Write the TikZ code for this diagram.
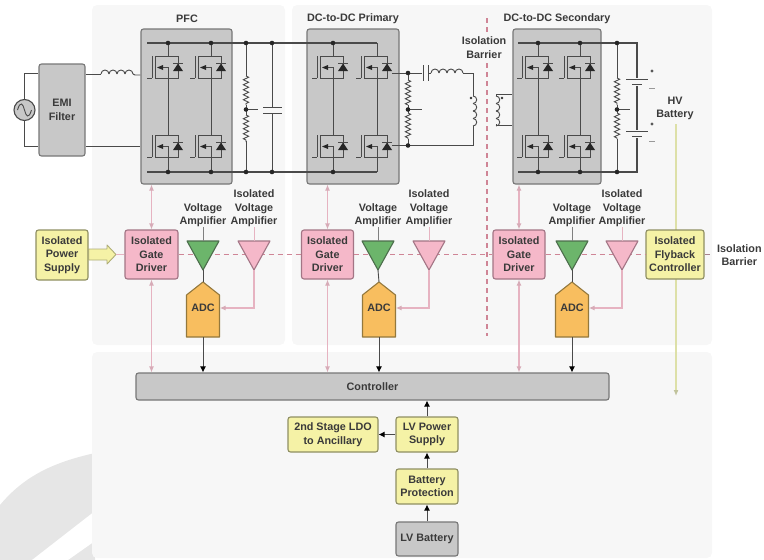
\documentclass[tikz,border=0pt]{standalone}
\usepackage{fontspec}
\setmainfont{Liberation Sans}
\usetikzlibrary{arrows.meta,decorations.pathmorphing}
\definecolor{panelc}{HTML}{F7F7F7}
\definecolor{blockc}{HTML}{C8C8C8}
\definecolor{blockb}{HTML}{777777}
\definecolor{wirec}{HTML}{4A4A4A}
\definecolor{yellowf}{HTML}{F5F2A6}
\definecolor{yellowb}{HTML}{8F8F62}
\definecolor{pinkf}{HTML}{F5B8C9}
\definecolor{pinkb}{HTML}{A37585}
\definecolor{pinkl}{HTML}{E6B3C1}
\definecolor{dashc}{HTML}{CF8596}
\definecolor{greenf}{HTML}{6CB56B}
\definecolor{greenb}{HTML}{4C6E4C}
\definecolor{orangef}{HTML}{F8BE5F}
\definecolor{orangeb}{HTML}{94783C}
\definecolor{txtc}{HTML}{3A3A3A}
\definecolor{hvline}{HTML}{DDE0A8}
\definecolor{wmark}{HTML}{E6E6E6}
\tikzset{
  lab/.style={font=\fontsize{10.8}{13.5}\selectfont\bfseries,text=txtc,align=center,inner sep=0pt},
  ybox/.style={lab,rounded corners=2.5pt,draw=yellowb,fill=yellowf,line width=1.1pt},
  pbox/.style={lab,rounded corners=2.5pt,draw=pinkb,fill=pinkf,line width=1.1pt},
  gbox/.style={lab,rounded corners=2.5pt,draw=blockb,fill=blockc,line width=1.1pt},
  wire/.style={draw=wirec,line width=0.9pt},
  pinkarrow/.style={draw=pinkl,line width=1.1pt,{Latex[length=6pt,width=5pt,color=pinkl!85!gray]}-{Latex[length=6pt,width=5pt,color=pinkl!85!gray]}},
  barrier/.style={draw=dashc,line width=1.2pt,dash pattern=on 5pt off 4pt},
  blackarrow/.style={draw=wirec,line width=1pt,-{Latex[length=6pt,width=6pt,color=black]}},
  panel/.style={fill=panelc,rounded corners=5pt,draw=none}
}
\newcommand{\dotat}[2]{\fill[black!85] (#1,#2) circle[radius=2.3pt];}
\newcommand{\mosf}[2]{% centre x, top y
  \draw[wire] (#1-16,#2) -- (#1-16,#2+22) (#1-21,#2+22) -- (#1-16,#2+22);
  \draw[wire] (#1-13,#2) -- (#1+10,#2) -- (#1+10,#2+22) -- (#1-13,#2+22) -- cycle;
  \draw[wire] (#1-9,#2+11.5) -- (#1,#2+11.5) -- (#1,#2+22);
  \fill[black!85] (#1-11,#2+11.5) -- (#1-5,#2+9) -- (#1-5,#2+14) -- cycle;
  \fill[black!85] (#1+10,#2+7.5) -- (#1+15,#2+15) -- (#1+5,#2+15) -- cycle;
  \draw[wire] (#1+5,#2+7.5) -- (#1+15,#2+7.5);
}
\newcommand{\leg}[1]{% two mosfets on a vertical at x=#1
  \mosf{#1}{56}\mosf{#1}{135}
  \draw[wire] (#1,43) -- (#1,56) (#1,78) -- (#1,135) (#1,157) -- (#1,172);
}
\newcommand{\resv}[3]{\draw[wire,decorate,decoration={zigzag,amplitude=2.6pt,segment length=5pt}] (#1,#2) -- (#1,#3);}
\newcommand{\hcoil}[2]{\foreach \i in {0,1,2,3}{\draw[wire] (#1+\i*8,#2) arc[start angle=180,end angle=0,radius=4pt];}}
\newcommand{\vcoil}[2]{\foreach \i in {0,1,2,3}{\draw[wire] (#1,#2+\i*7.5) arc[start angle=90,end angle=-90,radius=3.75pt];}}
\newcommand{\ampl}[5]{% name, x, fill, border, label
  \coordinate (#1top) at (#2,241);
  \coordinate (#1tip) at (#2,270);
  \draw[fill=#3,draw=#4,line width=1.1pt,line join=round] (#2-16,241) -- (#2+16,241) -- (#2,270) -- cycle;
}
\newcommand{\adcblock}[2]{%
  \draw[fill=orangef,draw=orangeb,line width=1.1pt,line join=round] (#2,282) -- (#2+16.5,295) -- (#2+16.5,337) -- (#2-16.5,337) -- (#2-16.5,295) -- cycle;
  \coordinate (#1top) at (#2,282);
  \node[lab,minimum width=33pt,minimum height=58pt] (#1) at (#2,308) {ADC};
}
\begin{document}
\begin{tikzpicture}[x=1pt,y=-1pt]
\useasboundingbox (0,0) rectangle (764,560);
% faint background swoosh
\fill[wmark] (0,505) .. controls (25,475) and (55,462) .. (95,453) -- (95,560) -- (0,560) -- cycle;
\fill[white] (95,511) -- (95,541) -- (68,560) -- (32,560) -- cycle;
% panels
\fill[panel] (92,5) rectangle (285,345);
\fill[panel] (292,5) rectangle (712,345);
\fill[panel] (92,352) rectangle (712,558);
% hv line
\coordinate (hvtop) at (676,124);
\coordinate (hvbot) at (676,396);
\draw[draw=hvline,line width=1.2pt,-{Latex[length=6pt,width=5pt,color=hvline!70!gray]}] (hvtop) -- (hvbot);
% switch blocks
\node[gbox,minimum width=91pt,minimum height=155pt] (bk1) at (186.5,106.5) {};
\node[gbox,minimum width=92pt,minimum height=155pt] (bk2) at (353,106.5) {};
\node[gbox,minimum width=88pt,minimum height=155pt] (bk3) at (557,106.5) {};
\node[gbox,minimum width=46pt,minimum height=92pt] (emi) at (62,110) {EMI\\Filter};
% titles
\node[lab] (tpfc) at (187,19) {PFC};
\node[lab] (tpri) at (353,19) {DC-to-DC Primary};
\node[lab] (tsec) at (557,19) {DC-to-DC Secondary};
% AC source
\node[circle,draw=wirec,fill=blockc,line width=1.1pt,minimum size=21pt,inner sep=0pt] (ac) at (24.5,110) {};
\draw[wire] (ac.center) ++(-7,0) .. controls (20.5,100) and (23,104) .. (24.5,110) .. controls (26,116) and (28.5,120) .. (31.5,110);
\draw[wire] (ac.north) |- (emi.west |- 0,73);
\draw[wire] (ac.south) |- (emi.west |- 0,146);
% PFC inputs
\draw[wire] (emi.east |- 0,74) -- (101,74);
\hcoil{101}{74}
\draw[wire] (133,74) -- (135,75) -- (bk1.west |- 0,75);
\draw[wire] (emi.east |- 0,146.5) -- (bk1.west |- 0,146.5);
% rails
\draw[wire,line width=1.1pt] (147,43) -- (377,43);
\draw[wire,line width=1.1pt] (147,172) -- (377,172);
\draw[wire,line width=1.1pt] (518,43) -- (637,43) -- (637,172) -- (518,172);
\leg{168}\leg{211}\leg{333}\leg{377}\leg{538}\leg{580}
% PFC bus
\draw[wire] (246,43) -- (246,76) (246,141) -- (246,172) (246,105) -- (246,115);
\resv{246}{76}{105}\resv{246}{115}{142}
\draw[wire] (246,109.5) -- (258,109.5);
\draw[wire] (272,43) -- (272,107) (272,113) -- (272,172);
\draw[wire] (263,107) -- (282,107) (263,113) -- (282,113);
\dotat{168}{43}\dotat{211}{43}\dotat{246}{43}\dotat{272}{43}
\dotat{168}{172}\dotat{211}{172}\dotat{246}{172}\dotat{272}{172}
\dotat{246}{109.5}
% Primary output
\dotat{333}{43}\dotat{333}{172}
\draw[wire] (392,73) -- (422,73);
\draw[wire] (423,65) -- (423,81) (428,65) -- (428,81);
\draw[wire] (428,73) -- (431,73);
\hcoil{431}{73}
\draw[wire] (463,73) -- (473,73) -- (473,96);
\vcoil{473}{96}
\draw[wire] (473,126) -- (473,145.5) -- (392,145.5);
\draw[wire] (408,73) -- (408,80) (408,105) -- (408,113) (408,139) -- (408,145.5);
\resv{408}{80}{105}\resv{408}{113}{139}
\draw[wire] (408,109.5) -- (422,109.5);
\dotat{408}{73}\dotat{408}{145.5}\dotat{408}{109.5}
\fill[black!80] (471,98) circle[radius=1.4pt];
% Transformer secondary
\draw[wire] (bk3.west |- 0,94) -- (496,94) -- (496,96);
\draw[wire] (bk3.west |- 0,125) -- (496,125) -- (496,124);
\vcoil{496}{96}
\fill[black!80] (502,98) circle[radius=1.4pt];
% Secondary bus
\draw[wire] (617,43) -- (617,78) (617,105) -- (617,113) (617,139) -- (617,172);
\resv{617}{78}{105}\resv{617}{113}{139}
\draw[wire] (617,109.5) -- (630,109.5);
\dotat{538}{43}\dotat{580}{43}\dotat{617}{43}
\dotat{538}{172}\dotat{580}{172}\dotat{617}{172}\dotat{617}{109.5}
\fill[panelc] (624,78) rectangle (650,86);
\fill[panelc] (624,130) rectangle (650,138);
\draw[wire] (626,79.5) -- (648,79.5) (632,84.5) -- (642,84.5);
\draw[wire] (626,131.5) -- (648,131.5) (632,136.5) -- (642,136.5);
\fill[black!65] (652,71) circle[radius=1.6pt];
\fill[black!65] (652,124) circle[radius=1.6pt];
\draw[black!40,line width=1pt] (649,88) -- (655,88) (649,141.5) -- (655,141.5);
\node[lab,fill=panelc,inner sep=1pt] (thv) at (675,108.5) {HV\\Battery};
% Main row nodes
\node[ybox,minimum width=52pt,minimum height=50pt] (psu) at (62,255) {Isolated\\Power\\Supply};
\node[pbox,minimum width=53pt,minimum height=49pt] (gd1) at (151.5,254.5) {Isolated\\Gate\\Driver};
\node[pbox,minimum width=52pt,minimum height=49pt] (gd2) at (327.5,254.5) {Isolated\\Gate\\Driver};
\node[pbox,minimum width=52pt,minimum height=49pt] (gd3) at (519,254.5) {Isolated\\Gate\\Driver};
\node[ybox,minimum width=58pt,minimum height=49pt] (fb) at (675,254.5) {Isolated\\Flyback\\Controller};
\node[gbox,minimum width=473pt,minimum height=27pt] (ctrl) at (372.5,386.5) {Controller};
\node[ybox,minimum width=62pt,minimum height=35pt] (lvps) at (427,434.5) {LV Power\\Supply};
\node[ybox,minimum width=90pt,minimum height=35pt] (ldo) at (333,434.5) {2nd Stage LDO\\to Ancillary};
\node[ybox,minimum width=62pt,minimum height=35pt] (bp) at (427,486.5) {Battery\\Protection};
\node[gbox,minimum width=62pt,minimum height=34pt] (lvb) at (427,539) {LV Battery};
% barriers
\coordinate (bar1) at (487,18);
\coordinate (bar2) at (487,336);
\draw[barrier] (bar1) -- (bar2);
\node[lab,fill=panelc,inner ysep=2pt,inner xsep=1pt] (tiso) at (484,47.5) {Isolation\\Barrier};
\coordinate (barend) at (713,254.5);
\draw[barrier] (gd1.east) -- (gd2.west);
\draw[barrier] (gd2.east) -- (gd3.west);
\draw[barrier] (gd3.east) -- (fb.west);
\draw[draw=dashc!50!gray,line width=1.2pt,dash pattern=on 5pt off 4pt] (fb.east) -- (barend);
\node[lab,anchor=west] (tiso2) at (717,255) {Isolation\\Barrier};
% block arrow
\coordinate (ptip) at (116,254.5);
\draw[fill=yellowf,draw=yellowb!70!yellowf,line width=0.9pt,line join=round] (psu.east |- 0,249) -- (107,249) -- (107,245) -- (ptip) -- (107,264) -- (107,260) -- (psu.east |- 0,260) -- cycle;
\draw[draw=pinkl,line width=1pt] (ptip) -- (gd1.west);
% amps
\foreach \n/\x in {a1/203,a2/378,a3/572}{\ampl{\n}{\x}{greenf}{greenb}{}}
\foreach \n/\x in {b1/254,b2/429,b3/622}{\ampl{\n}{\x}{pinkf}{pinkb}{}}
\adcblock{adc1}{203}
\adcblock{adc2}{379}
\adcblock{adc3}{572}
% amp labels
\foreach \n/\x in {va1/203,va2/378,va3/572}{\node[lab] (\n) at (\x,215) {Voltage\\Amplifier};}
\foreach \n/\x in {vb1/254,vb2/429,vb3/622}{\node[lab] (\n) at (\x,208.5) {Isolated\\Voltage\\Amplifier};}
% amp connectors
\foreach \n/\m in {a1/va1,a2/va2,a3/va3}{\draw[wire,draw=wirec!70] (\m.south) -- (\n top);}
\foreach \n/\m in {b1/vb1,b2/vb2,b3/vb3}{\draw[draw=pinkl,line width=1pt] (\m.south) -- (\n top);}
\draw[wire] (a1tip) -- (adc1top);
\draw[wire] (a2tip) -- (adc2top);
\draw[wire] (a3tip) -- (adc3top);
\foreach \b/\a in {b1/adc1,b2/adc2,b3/adc3}{\draw[draw=pinkl,line width=1.1pt,-{Latex[length=6pt,width=5pt,color=pinkl!85!gray]}] (\b tip) |- (\a.east);}
\foreach \a in {adc1,adc2,adc3}{\draw[blackarrow] (\a.south) -- (\a.south |- ctrl.north);}
% gate arrows
\draw[pinkarrow] (gd1.north |- bk1.south) -- (gd1.north);
\draw[pinkarrow] (gd2.north |- bk2.south) -- (gd2.north);
\draw[pinkarrow] (gd3.north |- bk3.south) -- (gd3.north);
\draw[pinkarrow] (gd1.south) -- (gd1.south |- ctrl.north);
\draw[pinkarrow] (gd2.south) -- (gd2.south |- ctrl.north);
\draw[pinkarrow] (gd3.south) -- (gd3.south |- ctrl.north);
% bottom arrows
\draw[blackarrow] (lvb.north) -- (bp.south);
\draw[blackarrow] (bp.north) -- (lvps.south);
\draw[blackarrow] (lvps.north) -- (lvps.north |- ctrl.south);
\draw[blackarrow] (lvps.west) -- (ldo.east);
\end{tikzpicture}
\end{document}
